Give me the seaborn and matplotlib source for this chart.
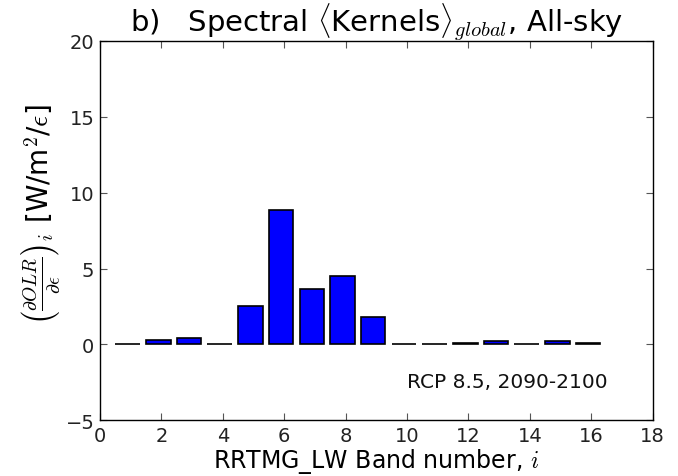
import numpy as np
import pandas as pd
import matplotlib
matplotlib.use("Agg")
import matplotlib.pyplot as plt
import seaborn as sns

bands = [1, 2, 3, 4, 5, 6, 7, 8, 9, 10, 11, 12, 13, 14, 15, 16]
kernel = [0.01, 0.3, 0.45, 0.01, 2.55, 8.85, 3.65, 4.5, 1.78, 0.01, 0.01, 0.12, 0.2, 0.01, 0.2, 0.12]
xticks = [0, 2, 4, 6, 8, 10, 12, 14, 16, 18]
yticks = [-5, 0, 5, 10, 15, 20]

sns.set_style("ticks", {"xtick.direction": "in", "ytick.direction": "in",
                        "text.color": "black", "axes.labelcolor": "black",
                        "xtick.color": "black", "ytick.color": "black"})
plt.rcParams["font.family"] = ["DejaVu Sans"]
plt.rcParams["mathtext.fontset"] = "cm"

df = pd.DataFrame({"band": bands, "kernel": kernel})

fig = plt.figure(figsize=(6.78, 4.77), dpi=100)
ax = fig.add_axes([0.1475, 0.117, 0.815, 0.795])
sns.barplot(data=df, x="band", y="kernel", native_scale=True, width=0.8,
            color="#0000ff", saturation=1, edgecolor="black", linewidth=1.2, ax=ax)
# bars drawn with left edge at band-0.5 (as in the original figure)
for p in ax.patches:
    p.set_x(p.get_x() - 0.1)

ax.set_xlim(0, 18)
ax.set_ylim(-5, 20)
ax.set_xticks(xticks)
ax.set_yticks(yticks)
ax.tick_params(axis="both", which="both", direction="in", top=True, right=True,
               labelsize=14, length=5, color="#555555", labelcolor="#222222", pad=4)
for s in ax.spines.values():
    s.set_linewidth(1.0)
    s.set_color("black")

ax.set_title(r"b)   Spectral $\langle$Kernels$\rangle_{global}$, All-sky", fontsize=21,
             pad=5, color="black")
ax.set_xlabel(r"RRTMG_LW Band number, $i$", fontsize=17, labelpad=1, color="black")
ax.set_ylabel(r"$\left(\frac{\partial OLR}{\partial \epsilon}\right)_i$ [W/m$^2$/$\epsilon$]",
              fontsize=20, color="black")
ax.yaxis.set_label_coords(-0.068, 0.545)
ax.text(10.0, -2.45, "RCP 8.5, 2090-2100", fontsize=14.5, ha="left", va="center", color="#111111")

fig.savefig("out.png", dpi=100)
